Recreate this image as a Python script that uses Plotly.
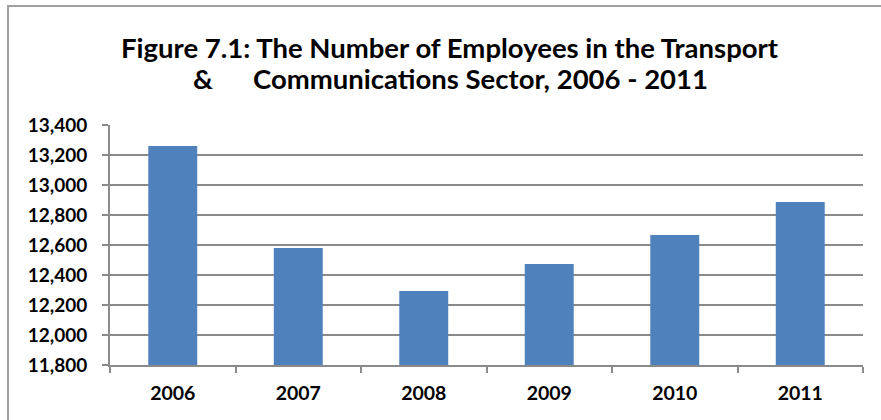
import plotly.graph_objects as go

# Employees in the Transport & Communications sector, by year
years = ["2006", "2007", "2008", "2009", "2010", "2011"]
employees = [13260, 12580, 12293, 12473, 12667, 12887]

y_ticks = list(range(11800, 13401, 200))
y_tick_labels = [f"{v:,}" for v in y_ticks]

title_line1 = "Figure 7.1: The Number of Employees in the Transport"
title_line2 = "&" + "\u00a0" * 6 + "Communications Sector, 2006 - 2011"

W, H = 881, 420
L, R, T, B = 110, 18, 125, 55
pw, ph = W - L - R, H - T - B

fig = go.Figure(
    go.Bar(
        x=years,
        y=employees,
        marker=dict(color="#4F81BD", line=dict(width=0)),
    )
)

font_family = "Lato, Open Sans, sans-serif"

fig.update_layout(
    width=W,
    height=H,
    margin=dict(l=L, r=R, t=T, b=B),
    paper_bgcolor="white",
    plot_bgcolor="white",
    bargap=0.61,
    showlegend=False,
    font=dict(family=font_family, color="black"),
)

# Two-line title, each line placed on its own
for text, y_px in [(title_line1, 47), (title_line2, 78)]:
    fig.add_annotation(
        text=f"<b>{text}</b>",
        xref="paper",
        yref="paper",
        x=(450 - L) / pw,
        y=(H - B - y_px) / ph,
        xanchor="center",
        yanchor="middle",
        showarrow=False,
        font=dict(size=27.5, family=font_family, color="black"),
    )

fig.update_xaxes(
    type="category",
    showline=True,
    linecolor="#8a8a8a",
    linewidth=2,
    ticks="outside",
    tickson="boundaries",
    ticklen=6,
    tickwidth=1.5,
    tickcolor="#8a8a8a",
    showgrid=False,
    tickfont=dict(size=19.5, family=font_family, color="black"),
    ticklabelstandoff=10,
    tickprefix="<b>",
    ticksuffix="</b>",
)

fig.update_yaxes(
    range=[11800, 13400],
    tickvals=y_ticks,
    ticktext=[f"<b>{t}</b>" for t in y_tick_labels],
    showline=True,
    linecolor="#8a8a8a",
    linewidth=2,
    ticks="outside",
    ticklen=6,
    tickwidth=1.5,
    tickcolor="#8a8a8a",
    showgrid=True,
    gridcolor="#8a8a8a",
    gridwidth=1.5,
    zeroline=False,
    tickfont=dict(size=19, family=font_family, color="black"),
    ticklabelstandoff=11,
)

# Chart-area frame (runs off the right and bottom edges of the page)
fig.add_shape(
    type="rect",
    xref="paper",
    yref="paper",
    x0=(8 - L) / pw,
    x1=(W + 20 - L) / pw,
    y0=-(B + 20) / ph,
    y1=(H - B - 6) / ph,
    line=dict(color="#a0a0a0", width=2),
    fillcolor="rgba(0,0,0,0)",
    layer="below",
)

fig.write_html("out.html")
